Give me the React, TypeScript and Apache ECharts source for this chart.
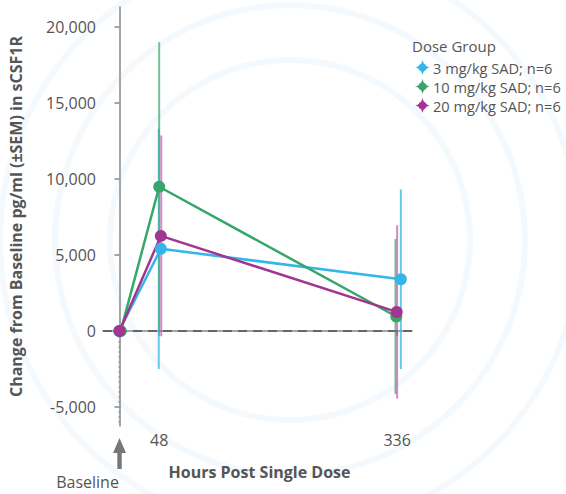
import React, { useEffect, useRef } from "react";
import * as echarts from "echarts";

const groups = ["3 mg/kg SAD; n=6", "10 mg/kg SAD; n=6", "20 mg/kg SAD; n=6"];
const colors = ["#35b6e8", "#36a66a", "#a13590"];
const barColors = ["rgba(53,182,232,0.75)", "rgba(54,166,106,0.7)", "rgba(184,60,160,0.6)"];
const hours = [
  [-0.5, 50, 340.5],
  [1.5, 48, 335],
  [0, 50, 335.5],
];
const means = [
  [0, 5400, 3400],
  [0, 9480, 950],
  [0, 6250, 1250],
];
const sems = [
  [0, 7900, 5900],
  [0, 9500, 5100],
  [0, 6600, 5700],
];
const barHours = [
  [0, 47.5, 340.5],
  [0, 48, 334],
  [0, 50.5, 336],
];
const yTicks = [-5000, 0, 5000, 10000, 15000, 20000];
const xTicks = [0, 48, 336];
const xLabels = [48, 336];

const starPath =
  "path://M50,0 C55,22 62,30 70,30 C72,38 78,45 100,50 C78,55 72,62 70,70 C62,70 55,78 50,100 C45,78 38,70 30,70 C28,62 22,55 0,50 C22,45 28,38 30,30 C38,30 45,22 50,0 Z";

export default function App() {
  const ref = useRef<HTMLDivElement>(null);
  useEffect(() => {
    document.body.style.margin = "0";
    const chart = echarts.init(ref.current!, null, { renderer: "svg" });
    const font = "'Open Sans', 'Noto Sans', sans-serif";
    const series: any[] = [];
    groups.forEach((g, i) => {
      series.push({
        type: "custom",
        silent: true,
        z: 2,
        data: barHours[i]
          .map((h, k) => [h, means[i][k] - sems[i][k], means[i][k] + sems[i][k]])
          .filter((_, k) => sems[i][k] > 0),
        renderItem: (params: any, api: any) => {
          const a = api.coord([api.value(0), api.value(1)]);
          const b = api.coord([api.value(0), api.value(2)]);
          return {
            type: "line",
            shape: { x1: a[0], y1: a[1], x2: b[0], y2: b[1] },
            style: { stroke: barColors[i], lineWidth: 2 },
          };
        },
      });
    });
    groups.forEach((g, i) => {
      series.push({
        type: "line",
        name: g,
        z: 3,
        data: hours[i].map((h, k) => [h, means[i][k]]),
        symbol: "circle",
        symbolSize: 12,
        itemStyle: { color: colors[i] },
        lineStyle: { color: colors[i], width: 2.5 },
        markLine:
          i === 0
            ? {
                silent: true,
                symbol: "none",
                label: { show: false },
                lineStyle: { color: "#666", type: [9, 6], width: 2 },
                data: [{ yAxis: 0 }],
                z: 1,
              }
            : undefined,
      });
    });
    series.push({
      type: "line",
      silent: true,
      z: 1,
      data: [
        [0, 0],
        [0, -6250],
      ],
      symbol: "none",
      lineStyle: { color: "#999", type: [2, 3], width: 2 },
    });

    chart.setOption({
      animation: false,
      textStyle: { fontFamily: font },
      grid: { left: 101, right: 154, top: 7, bottom: 68 },
      xAxis: {
        type: "value",
        min: -20,
        max: 354,
        splitLine: { show: false },
        axisLine: { lineStyle: { color: "#888", width: 1.5 } },
        axisTick: { customValues: xTicks, length: 5, lineStyle: { color: "#888", width: 1.5 } },
        axisLabel: { customValues: xLabels, fontSize: 16, color: "#555", margin: 6, fontFamily: font },
        name: "Hours Post Single Dose",
        nameLocation: "middle",
        nameGap: 38,
        nameTextStyle: { fontSize: 16, fontWeight: "bold", color: "#555", fontFamily: font, padding: [0, 0, 0, 4] },
      },
      yAxis: {
        type: "value",
        min: -6250,
        max: 21300,
        splitLine: { show: false },
        axisLine: { show: true, lineStyle: { color: "#888", width: 1.5 } },
        axisTick: { show: true, customValues: yTicks, length: 5, lineStyle: { color: "#888", width: 1.5 } },
        axisLabel: {
          customValues: yTicks,
          fontSize: 16,
          color: "#555",
          margin: 7,
          fontFamily: font,
          formatter: (v: number) => v.toLocaleString("en-US"),
        },
        name: "Change from Baseline pg/ml (±SEM) in sCSF1R",
        nameLocation: "middle",
        nameGap: 79,
        nameTextStyle: { fontSize: 16, fontWeight: "bold", color: "#555", fontFamily: font },
      },
      legend: {
        orient: "vertical",
        left: 410,
        top: 55,
        itemGap: 4,
        itemWidth: 15,
        itemHeight: 15,
        textStyle: { fontSize: 14.6, color: "#555", fontFamily: font, overflow: "none", padding: [0, 0, 0, -2] },
        data: groups.map((g, i) => ({ name: g, icon: starPath, itemStyle: { color: colors[i] } })),
      },
      series,
    });

    const p0 = chart.convertToPixel({ xAxisIndex: 0, yAxisIndex: 0 }, [0, -6250]) as number[];
    const ax = p0[0];
    const ay = p0[1];
    const rings = [180, 235, 290].map((r) => ({
      type: "ring",
      silent: true,
      z: -10,
      shape: { cx: 290, cy: 240, r: r + 3, r0: r - 3 },
      style: { fill: "rgba(215,235,248,0.28)" },
    }));
    chart.setOption({
      graphic: [
        ...rings,
        {
          type: "polygon",
          silent: true,
          shape: {
            points: [
              [ax, ay + 12],
              [ax + 6.5, ay + 27],
              [ax + 2.2, ay + 27],
              [ax + 2.2, ay + 43],
              [ax - 2.2, ay + 43],
              [ax - 2.2, ay + 27],
              [ax - 6.5, ay + 27],
            ],
          },
          style: { fill: "#777" },
        },
        {
          type: "text",
          silent: true,
          x: ax - 32,
          y: ay + 56,
          style: { text: "Baseline", font: `16px ${font}`, fill: "#555", textAlign: "center", textVerticalAlign: "middle" },
        },
        {
          type: "text",
          silent: true,
          x: 412,
          y: 46,
          style: { text: "Dose Group", font: `15px ${font}`, fill: "#555", textVerticalAlign: "middle" },
        },
      ],
    });
    return () => chart.dispose();
  }, []);
  return <div ref={ref} style={{ width: 566, height: 494 }} />;
}
